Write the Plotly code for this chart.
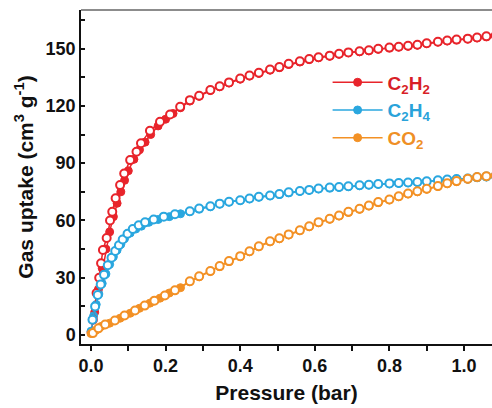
import plotly.graph_objects as go

# ---- isotherm data: pressure (bar) vs uptake (cm3 g-1) ----
p_high = [0.265, 0.29, 0.32, 0.345, 0.37, 0.40, 0.425, 0.45, 0.48, 0.505,
          0.53, 0.56, 0.585, 0.61, 0.64, 0.665, 0.69, 0.72, 0.745, 0.77,
          0.80, 0.825, 0.85, 0.875, 0.90, 0.93, 0.955, 0.98, 1.01, 1.035,
          1.06, 1.085]

# C2H2
p_c2h2_ads = [0.0, 0.01, 0.02, 0.03, 0.04, 0.05, 0.06, 0.07, 0.08, 0.09,
              0.10, 0.115, 0.13, 0.145, 0.16, 0.18, 0.20, 0.22, 0.24] + p_high
v_c2h2_ads = [1.5, 12, 24, 35, 45, 54, 62, 69, 75, 81,
              86, 92, 97, 101, 105, 109.5, 113, 116, 119,
              122.5, 125, 128, 130, 132, 134, 135.6, 137, 138.7, 140,
              141.7, 143, 144.2, 145.2, 146, 147, 147.8, 148.3, 148.8, 149.6,
              150.3, 150.8, 151.2, 151.8, 152.6, 153.4, 154, 154.5, 155, 155.6,
              156.2, 156.6]
p_c2h2_des = [0.005, 0.015, 0.022, 0.027, 0.032, 0.042, 0.051, 0.057, 0.066, 0.078,
              0.089, 0.105, 0.122, 0.134, 0.158, 0.185, 0.212, 0.239] + p_high
v_c2h2_des = [8, 22, 30, 37.6, 44.5, 50.8, 60, 64.5, 71.6, 78.5,
              84.6, 91.6, 96, 100.4, 107, 111.7, 115.5, 119.5,
              123, 125.3, 128.3, 130.3, 132.3, 134.3, 135.9, 137.3, 139, 140.3,
              142, 143.3, 144.5, 145.5, 146.3, 147.3, 148, 148.6, 149.1, 149.9,
              150.5, 151, 151.5, 152, 152.8, 153.6, 154.2, 154.7, 155.2, 155.8,
              156.4, 156.8]

# C2H4
p_c2h4_ads = [0.0, 0.007, 0.014, 0.021, 0.03, 0.04, 0.05, 0.06, 0.07, 0.08,
              0.09, 0.105, 0.12, 0.135, 0.155, 0.18, 0.21, 0.24] + p_high
v_c2h4_ads = [2, 10, 16, 21.5, 27, 32, 37, 41, 44.5, 47.5,
              50.5, 53.4, 55.5, 57, 59, 60.5, 62, 63.5,
              64.6, 66, 67.2, 68.6, 69.6, 70.4, 71.3, 72.2, 72.9, 73.6,
              74.5, 75.2, 75.8, 76.5, 77, 77.3, 77.7, 78.2, 78.5, 78.9,
              79.2, 79.4, 79.7, 79.9, 80.3, 80.8, 81.2, 81.5, 81.8, 82.4,
              82.8, 83.1]
p_c2h4_des = [0.004, 0.011, 0.018, 0.026, 0.035, 0.045, 0.055, 0.065, 0.075, 0.085,
              0.098, 0.112, 0.128, 0.145, 0.168, 0.195, 0.225] + p_high
v_c2h4_des = [8, 15, 21, 26.5, 31.5, 36.5, 40.5, 44, 47, 50,
              53, 55.5, 57.5, 59, 60.5, 62, 63.2,
              64.8, 66.2, 67.4, 68.8, 69.8, 70.6, 71.5, 72.4, 73.1, 73.8,
              74.7, 75.4, 76, 76.7, 77.2, 77.5, 77.9, 78.4, 78.7, 79.1,
              79.4, 79.6, 79.9, 80.1, 80.5, 81, 81.4, 81.7, 82, 82.6,
              83, 83.3]

# CO2
p_co2_ads = [0.0, 0.013, 0.027, 0.05, 0.078, 0.105, 0.13, 0.158, 0.185, 0.21,
             0.24] + p_high
v_co2_ads = [0.8, 2.5, 4.5, 6.2, 8.8, 11.4, 14, 16.7, 19.3, 22,
             24.8,
             27.9, 30.5, 33.2, 35.8, 38.4, 41, 43.6, 46.2, 48.8, 50.4,
             52.4, 54.6, 56.7, 58.8, 60.6, 62.3, 64.2, 65.8, 67.5, 69.3,
             70.7, 72.4, 73.8, 75, 76.3, 77.7, 79.2, 80.3, 81.5, 82.4,
             82.9, 83.2]
p_co2_des = [0.005, 0.02, 0.038, 0.064, 0.09, 0.118, 0.144, 0.17, 0.198, 0.225] + p_high
v_co2_des = [1, 3.5, 5.5, 7.6, 10.2, 12.8, 15.4, 18, 20.7, 23.4,
             28.2, 30.8, 33.5, 36.1, 38.7, 41.3, 43.9, 46.5, 49.1, 50.7,
             52.7, 54.9, 57, 59.1, 60.9, 62.6, 64.5, 66.1, 67.8, 69.6,
             71, 72.7, 74.1, 75.3, 76.6, 78, 79.5, 80.6, 81.8, 82.7,
             83.2, 83.5]

gases = [
    ("C<sub>2</sub>H<sub>2</sub>", "#E8242B", "#D81F27", p_c2h2_ads, v_c2h2_ads, p_c2h2_des, v_c2h2_des),
    ("C<sub>2</sub>H<sub>4</sub>", "#2AA7DF", "#2AA3DA", p_c2h4_ads, v_c2h4_ads, p_c2h4_des, v_c2h4_des),
    ("CO<sub>2</sub>", "#F39125", "#EF8F25", p_co2_ads, v_co2_ads, p_co2_des, v_co2_des),
]

fig = go.Figure()
for i, (name, col, tcol, pa, va, pd_, vd) in enumerate(gases):
    # adsorption branch: filled circles
    fig.add_trace(go.Scatter(
        x=pa, y=va, mode="lines+markers",
        name=f"<span style='color:{tcol}'><b>{name}</b></span>",
        legendgroup=f"g{i}", showlegend=True,
        line=dict(color=col, width=1.5),
        marker=dict(symbol="circle", size=8, color=col, line=dict(color=col, width=1)),
    ))
for i, (name, col, tcol, pa, va, pd_, vd) in enumerate(gases):
    # desorption branch: open circles
    fig.add_trace(go.Scatter(
        x=pd_, y=vd, mode="lines+markers",
        legendgroup=f"g{i}", showlegend=False,
        line=dict(color=col, width=1.5),
        marker=dict(symbol="circle", size=8, color="white", line=dict(color=col, width=2)),
    ))

font_family = "Liberation Sans, Arial, sans-serif"

fig.update_layout(
    width=492, height=408,
    margin=dict(l=81, r=0, t=10, b=64),
    paper_bgcolor="white", plot_bgcolor="white",
    font=dict(family=font_family, color="#111111"),
    showlegend=True,
    legend=dict(
        x=0.60, y=0.84, xanchor="left", yanchor="top",
        bgcolor="rgba(0,0,0,0)",
        font=dict(family=font_family, size=19, weight="bold"),
        tracegroupgap=0, traceorder="grouped",
        itemwidth=50,
    ),
    xaxis=dict(
        range=[-0.0268, 1.075],
        tickvals=[0.0, 0.2, 0.4, 0.6, 0.8, 1.0],
        ticktext=["0.0", "0.2", "0.4", "0.6", "0.8", "1.0"],
        ticks="outside", ticklen=5, tickwidth=1.5, tickcolor="#111",
        minor=dict(tickvals=[0.1, 0.3, 0.5, 0.7, 0.9], ticks="outside", ticklen=5, tickwidth=1.5, tickcolor="#111"),
        showline=True, linecolor="#111", linewidth=1.5, mirror=False,
        showgrid=False, zeroline=False,
        tickfont=dict(size=18, weight="bold", color="#111"),
        title=dict(text="Pressure (bar)", font=dict(size=21, weight="bold", color="#111"), standoff=10),
    ),
    yaxis=dict(
        range=[-4.7, 170.2],
        tickvals=[0, 30, 60, 90, 120, 150],
        ticks="inside", ticklen=4, tickwidth=1.5, tickcolor="#111",
        minor=dict(tickvals=[15, 45, 75, 105, 135, 165], ticks="inside", ticklen=4, tickwidth=1.5, tickcolor="#111"),
        showline=True, linecolor="#111", linewidth=1.5,
        showgrid=False, zeroline=False,
        tickfont=dict(size=18, weight="bold", color="#111"),
        title=dict(text="Gas uptake (cm<sup>3</sup> g<sup>-1</sup>)", font=dict(size=21, weight="bold", color="#111"), standoff=6),
    ),
)

# top frame line of the plotting area
fig.add_shape(type="line", xref="paper", yref="paper", x0=0, x1=1, y0=1, y1=1,
              line=dict(color="#666", width=1.5))

fig.write_html("out.html")
